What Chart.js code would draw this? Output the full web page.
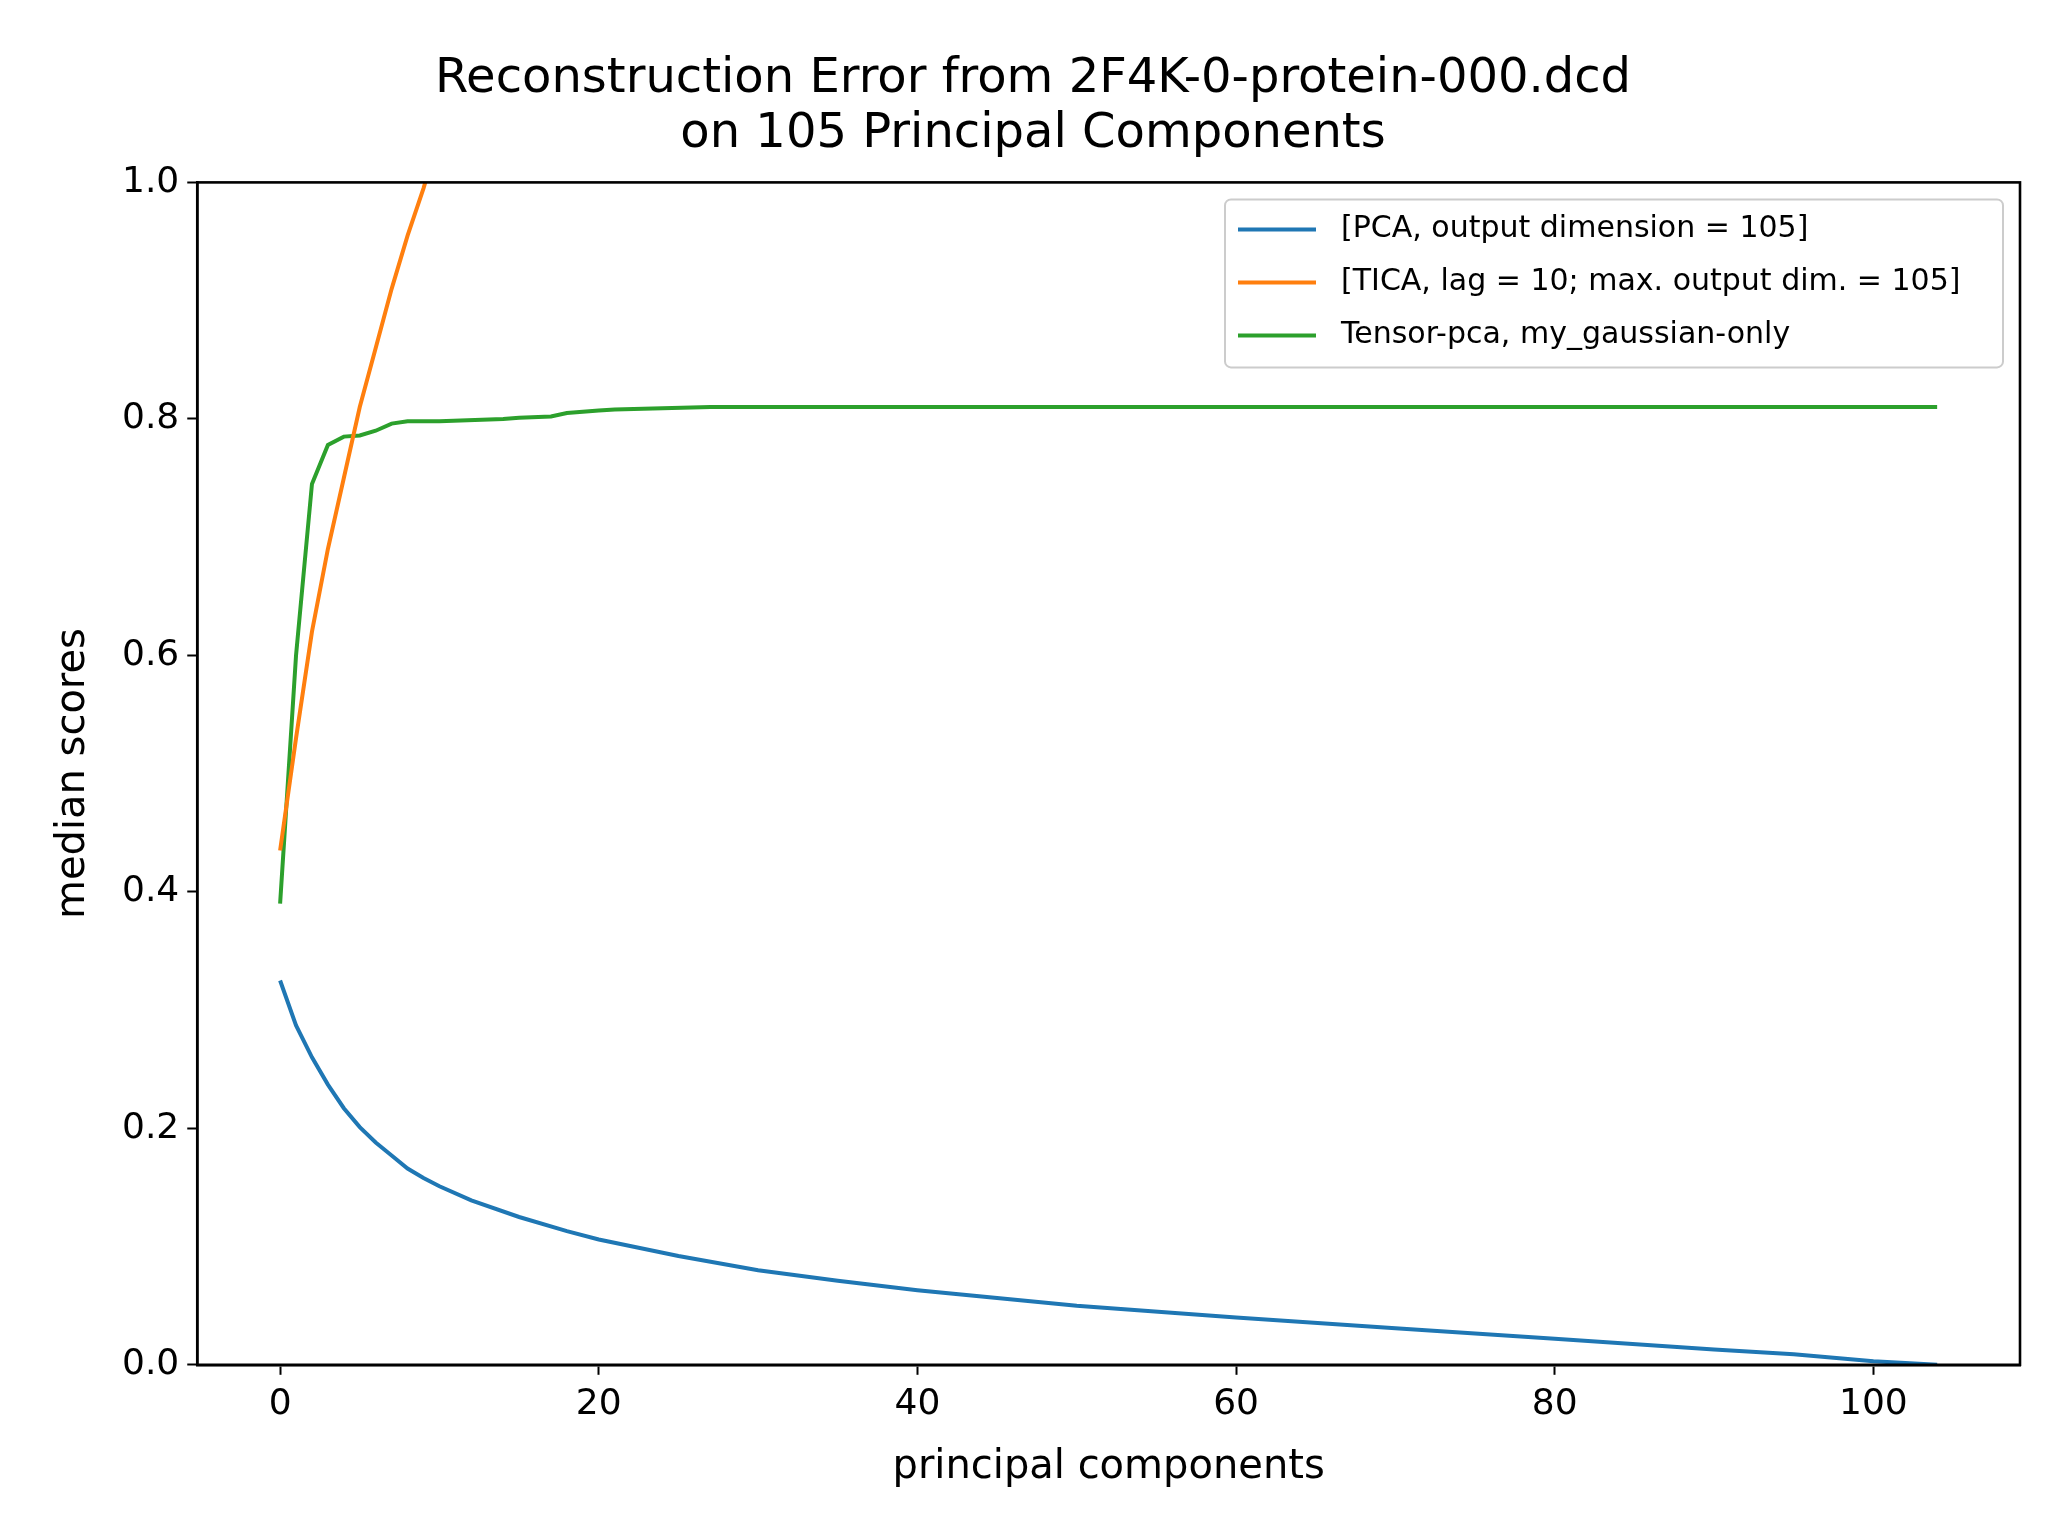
<!DOCTYPE html>
<html><head><meta charset="utf-8">
<script src="https://cdn.jsdelivr.net/npm/chart.js@4/dist/chart.umd.min.js"></script>
<style>html,body{margin:0;background:#fff}#wrap{width:2048px;height:1536px}</style>
</head><body><div id="wrap"><canvas id="c" width="2048" height="1536"></canvas></div>
<script>
const pcaX = [0,1,2,3,4,5,6,7,8,9,10,12,15,18,20,25,30,35,40,50,60,70,80,90,95,100,104];
const pcaY = [0.325,0.287,0.26,0.237,0.217,0.201,0.188,0.177,0.166,0.158,0.151,0.139,0.125,0.113,0.106,0.092,0.08,0.071,0.063,0.05,0.04,0.031,0.022,0.013,0.009,0.003,0.0];
const ticaX = [0,1,2,3,4,5,6,7,8,9,10,11];
const ticaY = [0.435,0.53,0.62,0.69,0.75,0.81,0.86,0.91,0.955,0.995,1.04,1.08];
const tensX = [0,1,2,3,4,5,6,7,8,10,14,15,17,18,20,21,24,27,35,104];
const tensY = [0.39,0.6,0.745,0.778,0.785,0.786,0.79,0.796,0.798,0.798,0.8,0.801,0.802,0.805,0.807,0.808,0.809,0.81,0.81,0.81];
const labels = ['[PCA, output dimension = 105]','[TICA, lag = 10; max. output dim. = 105]','Tensor-pca, my_gaussian-only'];
const colors = ['#1f77b4','#ff7f0e','#2ca02c'];
const xTicks = [0,20,40,60,80,100];

const pts = (xs, ys) => xs.map((x, i) => ({x, y: ys[i]}));
const F = 'DejaVu Sans';

const frame = {
  id: 'frame',
  afterDraw(chart) {
    const {ctx, chartArea: a} = chart;
    ctx.save();
    ctx.strokeStyle = '#000'; ctx.lineWidth = 2.6;
    ctx.strokeRect(a.left, a.top, a.right - a.left, a.bottom - a.top);
    // legend box, text clipped like the original
    const bw = 778, bh = 168, bx = a.right - 17 - bw, by = a.top + 17;
    ctx.fillStyle = 'rgba(255,255,255,0.8)';
    ctx.strokeStyle = '#ccc'; ctx.lineWidth = 2;
    ctx.beginPath(); ctx.roundRect(bx, by, bw, bh, 6); ctx.fill(); ctx.stroke();
    ctx.beginPath(); ctx.rect(bx, by, bw - 12, bh); ctx.clip();
    ctx.font = '30px "' + F + '"'; ctx.textBaseline = 'middle';
    chart.data.datasets.forEach((d, i) => {
      const y = by + 30 + i * 53;
      ctx.strokeStyle = d.borderColor; ctx.lineWidth = 4;
      ctx.beginPath(); ctx.moveTo(bx + 13, y); ctx.lineTo(bx + 91, y); ctx.stroke();
      ctx.fillStyle = '#000'; ctx.fillText(d.label, bx + 116, y);
    });
    ctx.restore();
  }
};

const gridOpts = {display: true, drawOnChartArea: false, drawTicks: true, tickLength: 10, tickColor: '#000', tickWidth: 2};

new Chart(document.getElementById('c'), {
  type: 'line',
  data: { datasets: [
    {label: labels[0], data: pts(pcaX, pcaY), borderColor: colors[0]},
    {label: labels[1], data: pts(ticaX, ticaY), borderColor: colors[1]},
    {label: labels[2], data: pts(tensX, tensY), borderColor: colors[2]}
  ].map(d => Object.assign(d, {borderWidth: 4, pointRadius: 0, tension: 0, fill: false})) },
  options: {
    responsive: false, animation: false, devicePixelRatio: 1,
    layout: {padding: {left: 46, right: 28, top: 10, bottom: 40}},
    plugins: {
      legend: {display: false}, tooltip: {enabled: false},
      title: {display: true, text: ['Reconstruction Error from 2F4K-0-protein-000.dcd', 'on 105 Principal Components'],
        color: '#000', font: {family: F, size: 48, weight: 'normal', lineHeight: 1.15}, padding: {top: 42, bottom: 20}}
    },
    scales: {
      x: {type: 'linear', min: -5.2, max: 109.2,
        afterBuildTicks: s => { s.ticks = xTicks.map(v => ({value: v})); },
        grid: gridOpts,
        border: {color: '#000', width: 2.6},
        ticks: {color: '#000', font: {family: F, size: 36}, padding: 8, maxRotation: 0},
        title: {display: true, text: 'principal components', color: '#000', font: {family: F, size: 40}, padding: {top: 10}}},
      y: {min: 0, max: 1,
        grid: gridOpts,
        border: {color: '#000', width: 2.6},
        ticks: {stepSize: 0.2, color: '#000', font: {family: F, size: 36}, padding: 8, callback: v => v.toFixed(1)},
        title: {display: true, text: 'median scores', color: '#000', font: {family: F, size: 40}, padding: {bottom: 16}}}
    }
  },
  plugins: [frame]
});
</script></body></html>
